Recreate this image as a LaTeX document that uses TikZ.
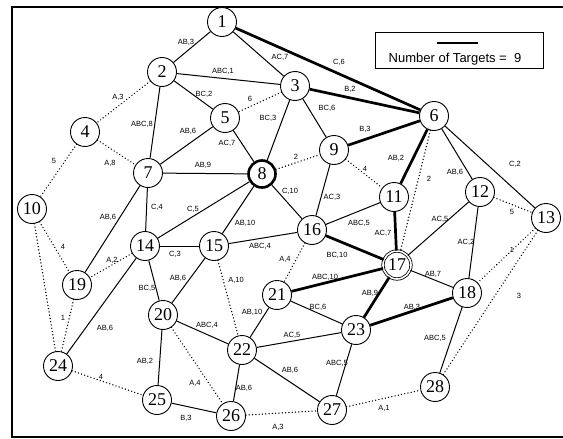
\documentclass[tikz,border=0pt]{standalone}
\usepackage{fontspec}
\setmainfont{Liberation Serif}
\setsansfont{Liberation Sans}
\begin{document}
\begin{tikzpicture}[x=1pt,y=-1pt,
  vtx/.style={circle,draw,fill=white,line width=0.9pt,minimum size=29pt,inner sep=0pt,
              font=\fontsize{18}{18}\selectfont},
  lab/.style={font=\sffamily\fontsize{7.5}{8}\selectfont,inner sep=0.5pt},
  solidedge/.style={line width=1pt},
  targetedge/.style={line width=2.7pt},
  dotedge/.style={line width=1.5pt,line cap=round,dash pattern=on 0.01pt off 3.3pt}]
\useasboundingbox (0,0) rectangle (563,439);

% frame
\draw[line width=1.6pt] (563,7) -- (12,7) -- (12,437) -- (563,437);

% vertices
\node[vtx] (n1)  at (222,22)  {1};
\node[vtx] (n2)  at (162,72)  {2};
\node[vtx] (n3)  at (295,86)  {3};
\node[vtx] (n4)  at (85,132)  {4};
\node[vtx] (n5)  at (225,118) {5};
\node[vtx] (n6)  at (434,116) {6};
\node[vtx] (n7)  at (148,173) {7};
\node[vtx,line width=2.6pt,minimum size=27pt] (n8) at (262,174) {8};
\node[vtx] (n9)  at (334,150) {9};
\node[vtx] (n10) at (32,209)  {10};
\node[vtx] (n11) at (394,197) {11};
\node[vtx] (n12) at (480,192) {12};
\node[vtx] (n13) at (546,218) {13};
\node[vtx] (n14) at (145,246) {14};
\node[vtx] (n15) at (214,246) {15};
\node[vtx] (n16) at (312,230) {16};
\node[vtx,double,double distance=1.6pt,line width=0.8pt,minimum size=28pt] (n17) at (397,265) {17};
\node[vtx] (n18) at (467,293) {18};
\node[vtx] (n19) at (77,285)  {19};
\node[vtx] (n20) at (163,315) {20};
\node[vtx] (n21) at (277,295) {21};
\node[vtx] (n22) at (242,350) {22};
\node[vtx] (n23) at (356,330) {23};
\node[vtx] (n24) at (58,366)  {24};
\node[vtx] (n25) at (157,400) {25};
\node[vtx] (n26) at (231,416) {26};
\node[vtx] (n27) at (332,410) {27};
\node[vtx] (n28) at (435,387) {28};

% target links
\draw[targetedge] (n1) -- (n6);
\draw[targetedge] (n3) -- (n6);
\draw[targetedge] (n6) -- (n9);
\draw[targetedge] (n6) -- (n11);
\draw[targetedge] (n11) -- (n17);
\draw[targetedge] (n16) -- (n17);
\draw[targetedge] (n17) -- (n21);
\draw[targetedge] (n17) -- (n23);
\draw[targetedge] (n18) -- (n23);

% ordinary links
\foreach \a/\b in {1/2,1/3,2/3,2/5,2/7,3/8,3/9,5/7,5/8,6/12,6/13,7/8,7/14,7/19,
                   8/16,8/14,8/15,9/16,11/16,12/17,12/18,14/15,14/20,14/24,15/16,
                   15/20,17/18,18/28,20/22,20/25,21/22,21/23,22/23,22/26,22/27,
                   23/27,25/26}
  \draw[solidedge] (n\a) -- (n\b);

% dotted links
\foreach \a/\b in {2/4,3/5,4/7,4/10,6/17,8/9,9/11,10/19,10/24,12/13,13/18,13/28,
                   14/19,15/22,16/21,19/24,20/26,24/25,26/27,27/28}
  \draw[dotedge] (n\a) -- (n\b);

% link labels
\node[lab] (l1-2)   at (186,42)  {AB,3};
\node[lab] (l1-3)   at (280,57)  {AC,7};
\node[lab] (l1-6)   at (339,62)  {C,6};
\node[lab] (l2-3)   at (223,71)  {ABC,1};
\node[lab] (l2-5)   at (204,94)  {BC,2};
\node[lab] (l3-5)   at (250,99)  {6};
\node[lab] (l3-6)   at (350,89)  {B,2};
\node[lab] (l3-8)   at (268,118) {BC,3};
\node[lab] (l3-9)   at (327,108) {BC,6};
\node[lab] (l6-9)   at (365,129) {B,3};
\node[lab] (l2-4)   at (118,97)  {A,3};
\node[lab] (l2-7)   at (142,124) {ABC,8};
\node[lab] (l5-7)   at (188,131) {AB,6};
\node[lab] (l5-8)   at (227,143) {AC,7};
\node[lab] (l4-7)   at (110,163) {A,8};
\node[lab] (l4-10)  at (54,161)  {5};
\node[lab] (l7-8)   at (203,165) {AB,9};
\node[lab] (l8-9)   at (296,157) {2};
\node[lab] (l9-11)  at (365,169) {4};
\node[lab] (l8-16)  at (290,191) {C,10};
\node[lab] (l9-16)  at (332,197) {AC,3};
\node[lab] (l8-14)  at (193,209) {C,5};
\node[lab] (l8-15)  at (245,223) {AB,10};
\node[lab] (l11-16) at (359,223) {ABC,5};
\node[lab] (l15-16) at (260,246) {ABC,4};
\node[lab] (l16-17) at (337,255) {BC,10};
\node[lab] (l16-21) at (285,259) {A,4};
\node[lab] (l15-22) at (236,280) {A,10};
\node[lab] (l17-21) at (325,277) {ABC,10};
\node[lab] (l11-17) at (383,233) {AC,7};
\node[lab] (l6-11)  at (396,158) {AB,2};
\node[lab] (l6-17)  at (429,179) {2};
\node[lab] (l6-12)  at (455,172) {AB,6};
\node[lab] (l6-13)  at (515,164) {C,2};
\node[lab] (l12-13) at (512,212) {5};
\node[lab] (l12-17) at (440,219) {AC,5};
\node[lab] (l12-18) at (466,242) {AC,2};
\node[lab] (l13-18) at (512,250) {1};
\node[lab] (l17-18) at (433,274) {AB,7};
\node[lab] (l17-23) at (370,293) {AB,9};
\node[lab] (l18-23) at (412,307) {AB,3};
\node[lab] (l21-23) at (318,307) {BC,6};
\node[lab] (l18-28) at (435,338) {ABC,5};
\node[lab] (l13-28) at (519,296) {3};
\node[lab] (l27-28) at (384,408) {A,1};
\node[lab] (l21-22) at (252,312) {AB,10};
\node[lab] (l20-22) at (207,325) {ABC,4};
\node[lab] (l22-23) at (292,335) {AC,5};
\node[lab] (l23-27) at (337,363) {ABC,5};
\node[lab] (l22-27) at (290,370) {AB,6};
\node[lab] (l22-26) at (244,388) {AB,6};
\node[lab] (l20-26) at (195,383) {A,4};
\node[lab] (l26-27) at (278,427) {A,3};
\node[lab] (l25-26) at (186,418) {B,3};
\node[lab] (l20-25) at (145,361) {AB,2};
\node[lab] (l24-25) at (101,377) {4};
\node[lab] (l14-24) at (105,328) {AB,6};
\node[lab] (l19-24) at (63,318)  {1};
\node[lab] (l7-19)  at (108,217) {AB,6};
\node[lab] (l10-19) at (63,247)  {4};
\node[lab] (l14-19) at (112,260) {A,2};
\node[lab] (l7-14)  at (157,207) {C,4};
\node[lab] (l14-15) at (175,254) {C,3};
\node[lab] (l15-20) at (178,278) {AB,6};
\node[lab] (l14-20) at (147,288) {BC,5};

% legend
\node[draw,line width=0.9pt,minimum width=168pt,minimum height=36pt,inner sep=0pt] (legend) at (459,50) {};
\coordinate (barL) at (437,43);
\coordinate (barR) at (478,43);
\draw[targetedge] (barL) -- (barR);
\node[font=\sffamily\fontsize{13}{14}\selectfont,inner sep=0pt] (legtext) at (455,59) {Number of Targets =~~9};
\end{tikzpicture}
\end{document}
